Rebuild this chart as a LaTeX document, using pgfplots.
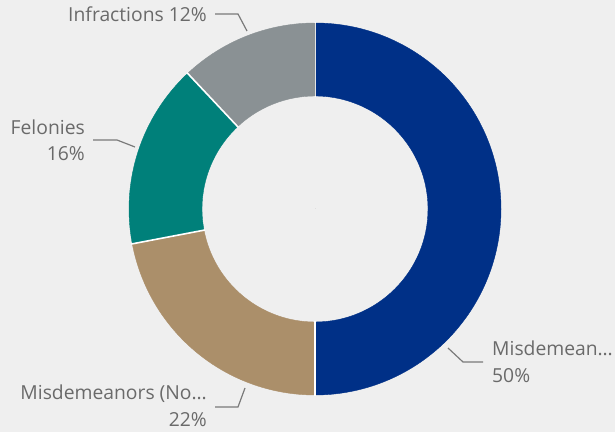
\documentclass[border=0pt]{standalone}
\usepackage{pgfplots}
\pgfplotsset{compat=1.18}
\usepackage{pgfplotstable}
\usepackage{fontspec}
\setmainfont{Open Sans}
\definecolor{bg}{HTML}{EFEFEF}
\definecolor{cblue}{HTML}{003087}
\definecolor{ctan}{HTML}{AB8F6A}
\definecolor{cteal}{HTML}{00807A}
\definecolor{cgray}{HTML}{8A9194}
\definecolor{txt}{HTML}{6A6A6A}
\definecolor{lead}{HTML}{7A7A7A}
\pgfplotstableread{
x y pct start idx
315 223 50 90 0
315 223 22 -90 1
315 223 16 -169.2 2
315 223 12 -226.8 3
}\slices
\tikzset{lbl/.style={font=\fontsize{19.3bp}{22bp}\selectfont, text=txt, inner sep=0pt}}
\begin{document}
\begin{tikzpicture}
\fill[bg] (0,0) rectangle (615bp,432bp);
\begin{axis}[
  at={(0,0)}, anchor=south west,
  width=615bp, height=432bp, scale only axis,
  xmin=0, xmax=615, ymin=0, ymax=432,
  hide axis, clip=false,
]
\addplot[scatter, only marks, mark=*, mark size=0pt,
  mark options={draw=none, fill=none},
  visualization depends on={\thisrow{pct} \as \pct},
  visualization depends on={\thisrow{start} \as \sa},
  visualization depends on={\thisrow{idx} \as \idx},
  scatter/@pre marker code/.code={%
    \pgfmathsetmacro\ea{\sa-3.6*\pct}%
    \pgfmathtruncatemacro\k{\idx}%
    \ifcase\k\def\mycol{cblue}\or\def\mycol{ctan}\or\def\mycol{cteal}\else\def\mycol{cgray}\fi
    \fill[\mycol] (\sa:186bp) arc[start angle=\sa, end angle=\ea, radius=186bp]
      -- (\ea:113bp) arc[start angle=\ea, end angle=\sa, radius=113bp] -- cycle;
    \draw[white, line width=1.6bp] (\sa:112bp) -- (\sa:187bp);
  },
  scatter/@post marker code/.code={},
] table[x=x, y=y] {\slices};

% leader lines
\addplot[lead, line width=1.2bp, mark=none] coordinates {(215,418) (238,418) (247,401)};
\addplot[lead, line width=1.2bp, mark=none] coordinates {(93,292) (117,292) (135,285)};
\addplot[lead, line width=1.2bp, mark=none] coordinates {(448,84) (463,70) (483,70)};
\addplot[lead, line width=1.2bp, mark=none] coordinates {(215,25) (238,25) (245,44)};

% labels
\node[lbl, anchor=base east] at (axis cs:207,410) {Infractions 12\%};
\node[lbl, anchor=base east] at (axis cs:85,297) {Felonies};
\node[lbl, anchor=base east] at (axis cs:85,271) {16\%};
\node[lbl, anchor=base west] at (axis cs:492,76) {Misdemean…};
\node[lbl, anchor=base west] at (axis cs:492,49) {50\%};
\node[lbl, anchor=base east] at (axis cs:207,32) {Misdemeanors (No…};
\node[lbl, anchor=base east] at (axis cs:207,6) {22\%};
\end{axis}
\pgfresetboundingbox
\path[use as bounding box] (0,0) rectangle (615bp,432bp);
\end{tikzpicture}
\end{document}
